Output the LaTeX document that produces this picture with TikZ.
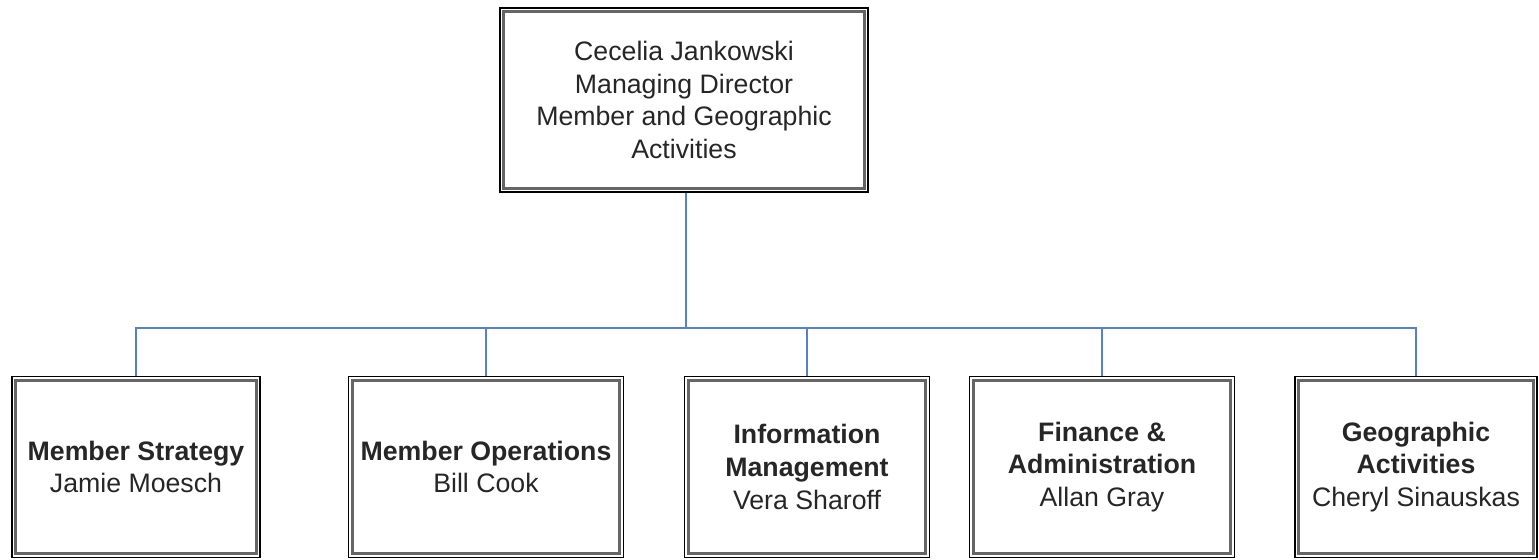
\documentclass[tikz,border=0pt]{standalone}
\usepackage{fontspec}
\setmainfont{Liberation Sans}
\usetikzlibrary{positioning, calc}
\definecolor{linkblue}{RGB}{86,128,200}
\newcommand{\tbf}[1]{\textbf{#1}}

\begin{document}
\begin{tikzpicture}[x=0.02cm, y=-0.02cm,
	orgbox/.style={draw=black, line width=0.8pt, rectangle, align=center, inner sep=0pt,
		font=\fontsize{15.2}{18.6}\selectfont, text=black!85,
		append after command={\pgfextra{\draw[line width=1.7pt, draw=black!60]
			($(\tikzlastnode.south west)+(2.6pt,2.6pt)$) rectangle ($(\tikzlastnode.north east)+(-2.6pt,-2.6pt)$);}}},
	link/.style={draw=linkblue, line width=1.1pt}]
	\useasboundingbox (0, 0) rectangle (1539, 559);

	\node[orgbox, minimum width=368*0.02cm, minimum height=184*0.02cm] (director) at (684, 100) {Cecelia Jankowski\\Managing Director\\Member and Geographic\\Activities};

	\node[orgbox, minimum width=248*0.02cm, minimum height=181*0.02cm] (strategy) at (136, 467) {\tbf{Member Strategy}\\Jamie Moesch};
	\node[orgbox, minimum width=275*0.02cm, minimum height=181*0.02cm] (operations) at (486, 467) {\tbf{Member Operations}\\Bill Cook};
	\node[orgbox, minimum width=245*0.02cm, minimum height=181*0.02cm] (infomgmt) at (807, 467) {\tbf{Information}\\\tbf{Management}\\Vera Sharoff};
	\node[orgbox, minimum width=265*0.02cm, minimum height=181*0.02cm] (finance) at (1102, 467) {\tbf{Finance \&}\\\tbf{Administration}\\Allan Gray};
	\node[orgbox, minimum width=242*0.02cm, minimum height=181*0.02cm] (geographic) at (1416, 467) {\tbf{Geographic}\\\tbf{Activities}\\Cheryl Sinauskas};

	\coordinate (bus) at (686, 328);
	\draw[link] (director.south -| bus) -- (bus);
	\foreach \unit in {strategy, operations, infomgmt, finance, geographic}
		\draw[link] (bus) -| (\unit.north);
\end{tikzpicture}
\end{document}
